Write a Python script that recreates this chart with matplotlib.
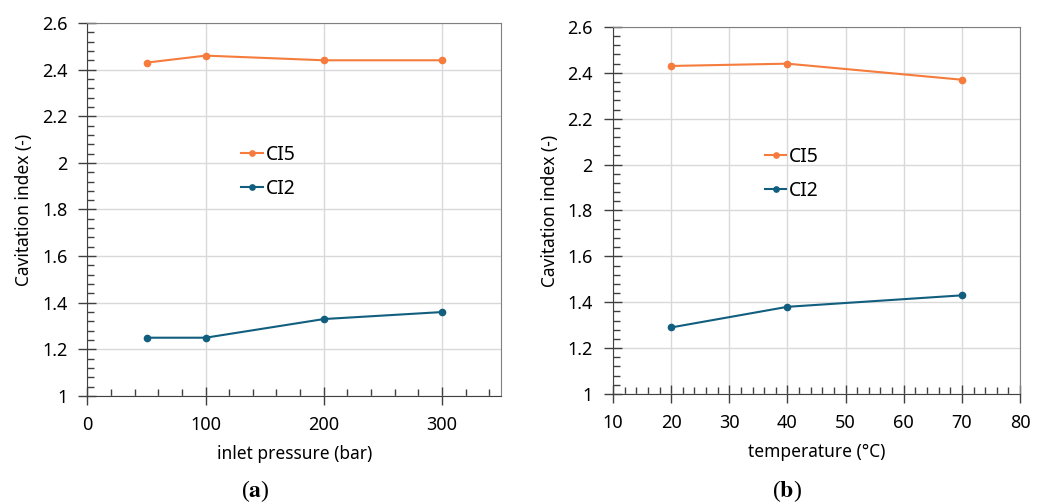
import matplotlib.pyplot as plt
import matplotlib.ticker as ticker

plt.rcParams['font.family'] = ['Noto Sans', 'DejaVu Sans']
plt.rcParams['mathtext.fontset'] = 'stix'

# (a) inlet pressure sweep
pressure = [50, 100, 200, 300]
ci5_pressure = [2.43, 2.46, 2.44, 2.44]
ci2_pressure = [1.25, 1.25, 1.33, 1.36]

# (b) temperature sweep
temperature = [20, 40, 70]
ci5_temp = [2.43, 2.44, 2.37]
ci2_temp = [1.29, 1.38, 1.43]

orange = '#F57C3C'
blue = '#115E7F'

fig = plt.figure(figsize=(10.45, 5.04), dpi=100)
ax1 = fig.add_axes([0.0837, 0.2143, 0.3957, 0.7401])
ax2 = fig.add_axes([0.5866, 0.2183, 0.3895, 0.7282])


def style(ax, xlim, xmaj, xmin, xlabel):
    ax.set_xlim(*xlim)
    ax.set_ylim(1, 2.6)
    ax.xaxis.set_major_locator(ticker.MultipleLocator(xmaj))
    ax.xaxis.set_minor_locator(ticker.MultipleLocator(xmin))
    ax.yaxis.set_major_locator(ticker.MultipleLocator(0.2))
    ax.yaxis.set_minor_locator(ticker.MultipleLocator(0.04))
    ax.yaxis.set_major_formatter(ticker.FuncFormatter(lambda v, p: f'{v:g}'))
    ax.grid(True, which='major', color='#d9d9d9', lw=1)
    ax.set_axisbelow(True)
    ax.tick_params(which='major', direction='inout', length=13, width=1,
                   color='#404040', labelsize=13, pad=8)
    ax.tick_params(which='minor', direction='in', length=5, width=1,
                   color='#404040')
    ax.tick_params(top=False, right=False, which='both')
    for s in ['left', 'bottom']:
        ax.spines[s].set_color('#404040')
    for s in ['top', 'right']:
        ax.spines[s].set_color('#808080')
    ax.set_xlabel(xlabel, fontsize=12.5, labelpad=8)
    ax.set_ylabel('Cavitation index (-)', fontsize=12.5, labelpad=6)


ax1.plot(pressure, ci5_pressure, '-o', color=orange, lw=1.5, ms=4.5, label='CI5')
ax1.plot(pressure, ci2_pressure, '-o', color=blue, lw=1.5, ms=4.5, label='CI2')
style(ax1, (0, 350), 100, 20, 'inlet pressure (bar)')

ax2.plot(temperature, ci5_temp, '-o', color=orange, lw=1.5, ms=4.5, label='CI5')
ax2.plot(temperature, ci2_temp, '-o', color=blue, lw=1.5, ms=4.5, label='CI2')
style(ax2, (10, 80), 10, 2, 'temperature (°C)')

for ax in (ax1, ax2):
    ax.legend(loc='upper left', bbox_to_anchor=(0.33, 0.72), frameon=False,
              fontsize=14, handlelength=1.1, handletextpad=0.15, labelspacing=0.7,
              markerscale=0.85)

fig.text(0.2445, 0.014, r'($\mathbf{a}$)', family='Liberation Serif', fontsize=17,
         ha='center')
fig.text(0.7535, 0.014, r'($\mathbf{b}$)', family='Liberation Serif', fontsize=17,
         ha='center')

fig.savefig('out.png', dpi=100)
